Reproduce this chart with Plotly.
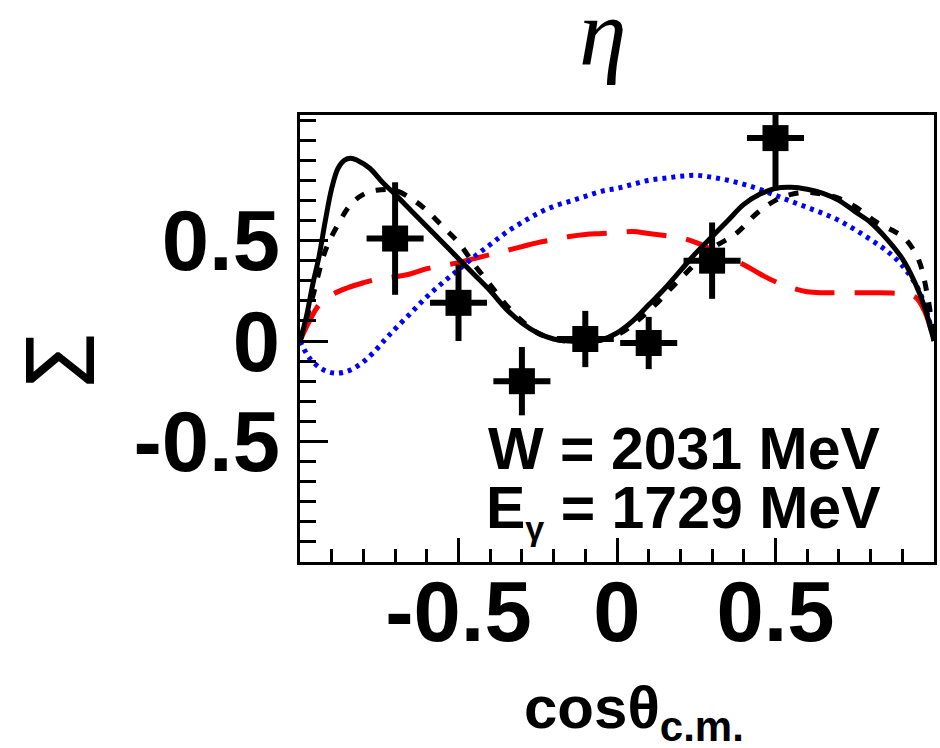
import plotly.graph_objects as go

# ---- data points (cos theta bins, Sigma, errors) ----
pt_x = [-0.7, -0.5, -0.3, -0.1, 0.1, 0.3, 0.5]
pt_y = [0.51, 0.19, -0.20, 0.01, -0.01, 0.40, 1.01]
pt_err = [0.28, 0.19, 0.17, 0.14, 0.13, 0.19, 0.26]
pt_xerr = 0.09

# ---- model curves ----
solid_x = [-1.0, -0.98, -0.96, -0.94, -0.92, -0.90, -0.88, -0.86, -0.84, -0.82, -0.78, -0.74, -0.70,
           -0.65, -0.60, -0.55, -0.50, -0.45, -0.40, -0.35, -0.30, -0.25, -0.20, -0.15, -0.10, -0.05,
           0.0, 0.05, 0.10, 0.15, 0.20, 0.25, 0.30, 0.35, 0.40, 0.45, 0.50, 0.55, 0.60, 0.65, 0.70,
           0.75, 0.80, 0.85, 0.90, 0.94, 0.97, 1.0]
solid_y = [0.0, 0.12, 0.28, 0.42, 0.60, 0.76, 0.86, 0.90, 0.91, 0.90, 0.86, 0.79, 0.73,
           0.65, 0.57, 0.49, 0.41, 0.33, 0.25, 0.16, 0.09, 0.04, 0.01, 0.0, -0.005, 0.005,
           0.04, 0.10, 0.18, 0.26, 0.35, 0.44, 0.52, 0.60, 0.68, 0.73, 0.76, 0.765, 0.755, 0.735, 0.70,
           0.645, 0.59, 0.51, 0.41, 0.29, 0.17, 0.0]

dash_x = [-1.0, -0.96, -0.92, -0.88, -0.84, -0.80, -0.76, -0.70, -0.65, -0.60, -0.55, -0.50, -0.45,
          -0.40, -0.35, -0.30, -0.25, -0.20, -0.10, 0.0, 0.10, 0.20, 0.30, 0.376, 0.444, 0.50, 0.55,
          0.60, 0.65, 0.70, 0.75, 0.82, 0.87, 0.905, 0.95, 0.98, 1.0]
dash_y = [0.0, 0.22, 0.45, 0.58, 0.68, 0.73, 0.75, 0.75, 0.71, 0.65, 0.57, 0.49, 0.38,
          0.28, 0.18, 0.10, 0.04, 0.01, -0.005, 0.03, 0.15, 0.31, 0.46, 0.535, 0.64, 0.70, 0.73,
          0.74, 0.73, 0.71, 0.67, 0.59, 0.55, 0.515, 0.41, 0.22, 0.0]

red_x = [-1.0, -0.97, -0.94, -0.90, -0.85, -0.80, -0.75, -0.70, -0.65, -0.60, -0.55, -0.50, -0.45,
         -0.40, -0.35, -0.30, -0.25, -0.20, -0.15, -0.10, -0.05, 0.0, 0.05, 0.10, 0.15, 0.20, 0.25,
         0.30, 0.35, 0.40, 0.45, 0.50, 0.55, 0.60, 0.65, 0.70, 0.80, 0.90, 0.94, 0.97, 1.0]
red_y = [0.0, 0.10, 0.18, 0.23, 0.265, 0.29, 0.31, 0.32, 0.335, 0.36, 0.375, 0.39, 0.41,
         0.43, 0.45, 0.47, 0.49, 0.505, 0.52, 0.53, 0.535, 0.54, 0.545, 0.535, 0.525, 0.515, 0.49,
         0.455, 0.42, 0.38, 0.335, 0.295, 0.265, 0.245, 0.24, 0.24, 0.24, 0.235, 0.22, 0.15, 0.0]

blue_x = [-1.0, -0.97, -0.93, -0.89, -0.85, -0.81, -0.77, -0.73, -0.70, -0.65, -0.60, -0.55, -0.50,
          -0.45, -0.40, -0.35, -0.30, -0.25, -0.20, -0.15, -0.10, -0.05, 0.0, 0.05, 0.10, 0.15, 0.20,
          0.25, 0.30, 0.35, 0.40, 0.45, 0.50, 0.55, 0.60, 0.65, 0.70, 0.75, 0.80, 0.85, 0.90, 0.95,
          0.98, 1.0]
blue_y = [0.0, -0.085, -0.14, -0.16, -0.15, -0.115, -0.06, 0.01, 0.06, 0.14, 0.22, 0.29, 0.355,
          0.42, 0.48, 0.54, 0.59, 0.635, 0.67, 0.695, 0.72, 0.745, 0.76, 0.78, 0.80, 0.81, 0.82,
          0.825, 0.815, 0.80, 0.78, 0.755, 0.725, 0.695, 0.665, 0.635, 0.60, 0.555, 0.505, 0.45, 0.375, 0.26,
          0.13, 0.0]

x_ticks = [-0.5, 0, 0.5]
x_ticktext = ["-0.5", "0", "0.5"]
y_ticks = [-0.5, 0, 0.5]
y_ticktext = ["-0.5", "0", "0.5"]

# ---- layout geometry (pixels) ----
W, H = 940, 748
L, R, T, B = 300, 3, 115, 186
PW, PH = W - L - R, H - T - B


def px(xp):
    return (xp - L) / PW


def py(yp):
    return (H - B - yp) / PH


fig = go.Figure()

fig.add_trace(go.Scatter(x=red_x, y=red_y, mode="lines", line=dict(color="#ff0000", width=5, dash="40px,20px"),
                         line_shape="spline", showlegend=False))
fig.add_trace(go.Scatter(x=blue_x, y=blue_y, mode="lines", line=dict(color="#0000ff", width=5, dash="4px,5px"),
                         line_shape="spline", showlegend=False))
fig.add_trace(go.Scatter(x=dash_x, y=dash_y, mode="lines", line=dict(color="black", width=5, dash="10px,12px"),
                         line_shape="spline", showlegend=False))
fig.add_trace(go.Scatter(x=solid_x, y=solid_y, mode="lines", line=dict(color="black", width=5),
                         line_shape="spline", showlegend=False))
fig.add_trace(go.Scatter(
    x=pt_x, y=pt_y, mode="markers",
    marker=dict(symbol="square", size=26, color="black"),
    error_y=dict(type="data", array=pt_err, color="black", thickness=6, width=0),
    error_x=dict(type="constant", value=pt_xerr, color="black", thickness=6, width=0),
    showlegend=False, cliponaxis=True))

tickfont = dict(family="Liberation Sans, Arial, sans-serif", size=85, color="black", weight="bold")

fig.update_xaxes(range=[-1, 1], showgrid=False, zeroline=False, showline=True, linecolor="black", linewidth=3,
                 mirror=True, ticks="inside", ticklen=24, tickwidth=3, tickcolor="black",
                 tickvals=x_ticks, ticktext=x_ticktext, tickfont=tickfont, ticklabelstandoff=-26,
                 minor=dict(ticks="inside", dtick=0.1, tick0=0, ticklen=13, tickwidth=3, tickcolor="black"))
fig.update_yaxes(range=[-1.1, 1.125], showgrid=False, zeroline=False, showline=True, linecolor="black", linewidth=3,
                 mirror=True, ticks="inside", ticklen=28, tickwidth=3, tickcolor="black",
                 tickvals=y_ticks, ticktext=y_ticktext, tickfont=tickfont,
                 minor=dict(ticks="inside", dtick=0.1, tick0=0, ticklen=16, tickwidth=3, tickcolor="black"))

bold = dict(family="Liberation Sans, Arial, sans-serif", color="black", weight="bold")
annotations = [
    dict(text="η", x=px(604), y=py(32), xref="paper", yref="paper", xanchor="center", yanchor="middle",
         showarrow=False, font=dict(family="Liberation Serif, serif", size=96, color="black", style="italic")),
    dict(text="Σ", x=px(56), y=py(360), xref="paper", yref="paper", xanchor="center", yanchor="middle",
         textangle=-90, showarrow=False, font=dict(family="Noto Sans, sans-serif", size=95, color="black")),
    dict(text="cosθ<sub>c.m.</sub>", x=px(636), y=py(712), xref="paper", yref="paper", xanchor="center",
         yanchor="middle", showarrow=False, font=dict(size=60, **bold)),
    dict(text="W = 2031 MeV", x=px(885), y=py(449), xref="paper", yref="paper", xanchor="right",
         yanchor="middle", showarrow=False, font=dict(size=59, **bold)),
    dict(text="E<sub><span style='font-size:34px'>γ</span></sub> = 1729 MeV", x=px(885), y=py(511),
         xref="paper", yref="paper", xanchor="right",
         yanchor="middle", showarrow=False, font=dict(size=59, **bold)),
]

fig.update_layout(width=W, height=H, margin=dict(l=L, r=R, t=T, b=B, pad=0),
                  paper_bgcolor="white", plot_bgcolor="white", annotations=annotations)

fig.write_html("out.html")
